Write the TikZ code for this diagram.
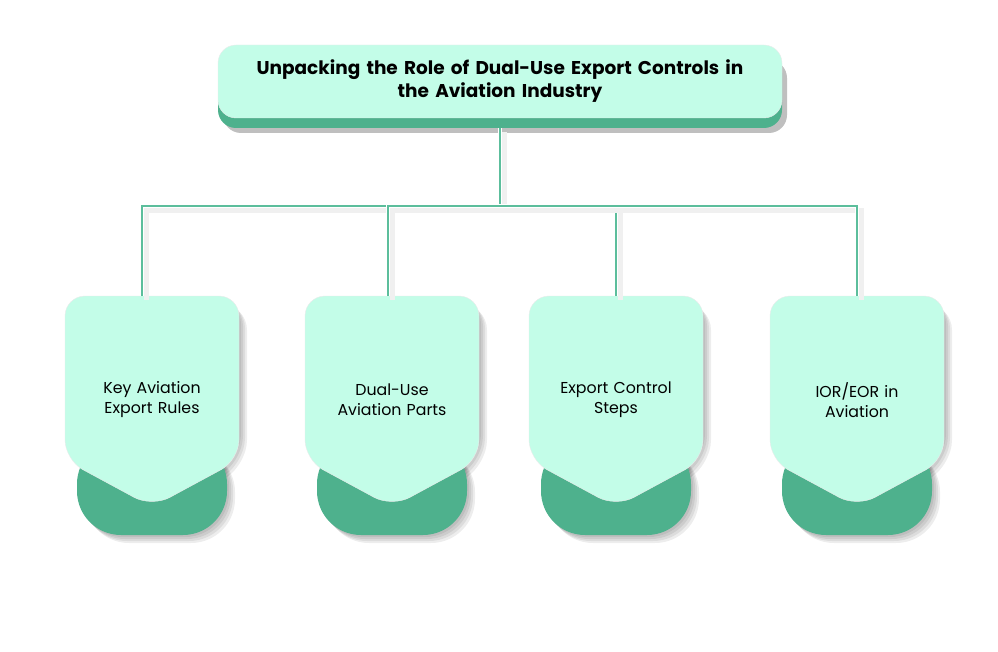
\documentclass[tikz,border=0pt]{standalone}
\usepackage{fontspec}
\setmainfont{Poppins}
\usepackage{xcolor}
\usetikzlibrary{positioning,calc,shadows,backgrounds}

\definecolor{mintlight}{RGB}{195,253,232}
\definecolor{mintdark}{RGB}{78,177,141}
\definecolor{linkgreen}{RGB}{92,190,156}

\begin{document}
\begin{tikzpicture}[x=1pt, y=-1pt,
    titlebox/.style={rectangle, fill=mintlight, draw=black!8, rounded corners=18pt, minimum width=564pt, minimum height=73pt, text width=550pt, align=center, font=\fontsize{18.5}{23}\selectfont\bfseries,
      drop shadow={shadow xshift=5pt, shadow yshift=-15pt, opacity=0.25, fill=black},
      general shadow={fill=mintdark, shadow yshift=-10pt}},
    card/.style={rectangle, minimum width=174pt, minimum height=208pt, text width=160pt, align=center, font=\fontsize{15.8}{20}\selectfont},
    line/.style={draw=linkgreen, line width=2pt,
      preaction={draw=black!6, line width=5pt, transform canvas={shift={(4pt,-4pt)}}},
      preaction={draw=white, line width=4.5pt}},
    cardface/.style={fill=mintlight, draw=black!8, rounded corners=20pt},
    cardbase/.style={fill=mintdark, rounded corners=44pt},
    cardshade/.style={fill=black, opacity=0.07, rounded corners=26pt}]
    \useasboundingbox (0,0) rectangle (998,652);

    % title
    \node [titlebox] (title) at (500,81.5) {Unpacking the Role of Dual-Use Export Controls in\\the Aviation Industry};

    % cards
    \node [card] (rules) at (152,400) {Key Aviation\\Export Rules};
    \node [card] (parts) at (392,400) {Dual-Use\\Aviation Parts};
    \node [card] (steps) at (616,400) {Export Control\\Steps};
    \node [card] (roles) at (857,400) {IOR/EOR in\\Aviation};

    \begin{scope}[on background layer]
    \foreach \c in {rules,parts,steps,roles} {
      \begin{scope}[shift={(\c.center)}]
        \foreach \s in {2,4,6,8} {
          \fill [cardshade, rounded corners=44pt, xshift=\s pt, yshift=-\s pt] (-75,40) -- (75,40) -- (75,135) -- (-75,135) -- cycle;
          \fill [cardshade, xshift=\s pt, yshift=-\s pt] (-87,0) -- (-87,-104) -- (87,-104) -- (87,58) -- (0,107) -- (-87,58) -- cycle;
        }
        \fill [cardbase] (-75,40) -- (75,40) -- (75,135) -- (-75,135) -- cycle;
        \draw [cardface] (-87,0) -- (-87,-104) -- (87,-104) -- (87,60) -- (0,107) -- (-87,60) -- cycle;
      \end{scope}
    }
    \end{scope}

    % connectors
    \coordinate (hub) at ($(title.south)+(0,88)$);
    \draw [line] ([yshift=-10pt]title.south) -- (hub);
    \draw [line] (hub) -| ([xshift=-10pt]rules.north);
    \draw [line] (hub) -| ([xshift=-4pt]parts.north);
    \draw [line] (hub) -| (steps.north);
    \draw [line] (hub) -| (roles.north);
\end{tikzpicture}
\end{document}
